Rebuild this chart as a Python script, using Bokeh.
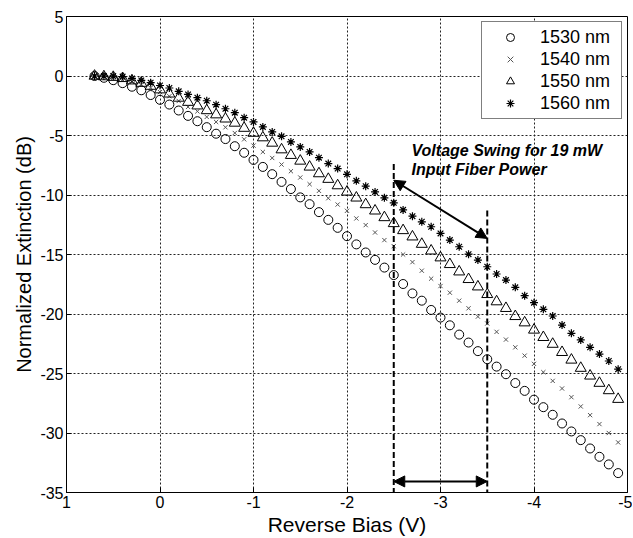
from bokeh.plotting import figure
from bokeh.models import (Range1d, Legend, LegendItem, Arrow, NormalHead, Label, FixedTicker,
                          CustomJSTickFormatter)
from bokeh.embed import file_html
from bokeh.resources import INLINE

bias = [0.7, 0.6, 0.5, 0.4, 0.3, 0.2, 0.1, 0.0, -0.1, -0.2, -0.3, -0.4, -0.5, -0.6, -0.7, -0.8, -0.9,
        -1.0, -1.1, -1.2, -1.3, -1.4, -1.5, -1.6, -1.7, -1.8, -1.9, -2.0, -2.1, -2.2, -2.3, -2.4,
        -2.5, -2.6, -2.7, -2.8, -2.9, -3.0, -3.1, -3.2, -3.3, -3.4, -3.5, -3.6, -3.7, -3.8, -3.9,
        -4.0, -4.1, -4.2, -4.3, -4.4, -4.5, -4.6, -4.7, -4.8, -4.9]

ext_1530 = [0.0, -0.15, -0.35, -0.6, -0.9, -1.2, -1.6, -2.0, -2.4, -2.9, -3.35, -3.8, -4.3, -4.85, -5.3,
            -5.9, -6.45, -7.05, -7.64, -8.25, -8.9, -9.5, -10.2, -10.77, -11.44, -12.09, -12.76,
            -13.46, -14.15, -14.83, -15.45, -16.1, -16.73, -17.48, -18.27, -18.88, -19.66, -20.3,
            -20.95, -21.73, -22.4, -23.12, -23.8, -24.42, -25.06, -25.8, -26.46, -27.2, -27.83,
            -28.47, -29.2, -29.87, -30.6, -31.3, -32.0, -32.64, -33.37]
ext_1540 = [0.0, -0.05, -0.15, -0.3, -0.5, -0.75, -1.0, -1.35, -1.7, -2.1, -2.6, -2.97, -3.44, -3.86,
            -4.31, -4.79, -5.32, -5.85, -6.38, -6.89, -7.44, -8.0, -8.53, -9.09, -9.65, -10.27,
            -10.8, -11.33, -11.97, -12.53, -13.15, -13.79, -14.3, -15.0, -15.64, -16.36, -17.03,
            -17.65, -18.21, -18.88, -19.52, -20.22, -20.8, -21.5, -22.15, -22.8, -23.5, -24.19,
            -24.89, -25.62, -26.26, -26.99, -27.77, -28.5, -29.25, -30.0, -30.79]
ext_1550 = [0.0, -0.05, -0.1, -0.2, -0.4, -0.6, -0.85, -1.15, -1.5, -1.85, -2.2, -2.5, -2.9, -3.25,
            -3.6, -3.95, -4.38, -4.8, -5.18, -5.63, -6.19, -6.66, -7.14, -7.64, -8.2, -8.67, -9.21,
            -9.74, -10.24, -10.8, -11.33, -11.89, -12.39, -12.98, -13.51, -14.13, -14.69, -15.27,
            -15.83, -16.45, -17.09, -17.71, -18.35, -18.96, -19.52, -20.2, -20.73, -21.34, -21.96,
            -22.53, -23.22, -23.86, -24.55, -25.2, -25.81, -26.43, -27.16]
ext_1560 = [0.0, 0.0, 0.0, -0.05, -0.2, -0.37, -0.56, -0.8, -1.01, -1.29, -1.55, -1.82, -2.08, -2.41,
            -2.75, -3.08, -3.5, -3.86, -4.28, -4.7, -5.07, -5.54, -5.96, -6.38, -6.86, -7.36, -7.78,
            -8.26, -8.81, -9.26, -9.74, -10.24, -10.66, -11.25, -11.78, -12.25, -12.67, -13.23,
            -13.79, -14.35, -14.97, -15.47, -16.03, -16.64, -17.15, -17.76, -18.46, -19.05, -19.61,
            -20.17, -20.93, -21.62, -22.18, -22.8, -23.37, -23.95, -24.64]

labels = ["1530 nm", "1540 nm", "1550 nm", "1560 nm"]
x_ticks = [1, 0, -1, -2, -3, -4, -5]
y_ticks = [5, 0, -5, -10, -15, -20, -25, -30, -35]

# annotation data
swing_x = [-2.5, -3.5]
swing_top = [-7.4, -11.3]
diag_arrow_y = [-8.76, -13.65]
bottom_arrow_y = -34.07
note_lines = ["Voltage Swing for 19 mW", "Input Fiber Power"]
note_x = -2.69
note_y = [-6.24, -7.85]

FONT = "Liberation Sans"

p = figure(width=632, height=538, x_range=Range1d(1, -5), y_range=Range1d(-35, 5),
           output_backend="svg", toolbar_location=None,
           min_border_left=66, min_border_right=5, min_border_top=16, min_border_bottom=45)
p.background_fill_color = "white"
p.border_fill_color = "white"
p.outline_line_color = "black"
p.outline_line_width = 1

fmt = CustomJSTickFormatter(code="return tick.toString();")
for ax in (p.xaxis[0], p.yaxis[0]):
    ax.formatter = fmt
    ax.major_label_text_font = FONT
    ax.major_label_text_font_size = "16px"
    ax.major_label_text_color = "black"
    ax.axis_label_text_font = FONT
    ax.axis_label_text_font_style = "normal"
    ax.axis_label_text_color = "black"
    ax.axis_line_color = "black"
    ax.major_tick_in = 5
    ax.major_tick_out = 0
    ax.minor_tick_in = 0
    ax.minor_tick_out = 0
    ax.major_label_standoff = 3
    ax.axis_label_standoff = 2

p.xaxis.axis_label_text_font_size = "21px"
p.yaxis.axis_label_text_font_size = "20px"
p.xaxis.ticker = FixedTicker(ticks=x_ticks)
p.yaxis.ticker = FixedTicker(ticks=y_ticks)
p.xaxis.axis_label = "Reverse Bias (V)"
p.yaxis.axis_label = "Normalized Extinction (dB)"

p.grid.grid_line_color = "#222222"
p.grid.grid_line_dash = "2 2"
p.grid.grid_line_width = 1
p.xgrid.ticker = FixedTicker(ticks=x_ticks)
p.ygrid.ticker = FixedTicker(ticks=y_ticks)

r1 = p.scatter(bias, ext_1530, marker="circle", size=9, fill_color=None, line_color="black", line_width=1)
r2 = p.scatter(bias, ext_1540, marker="x", size=6, line_color="#555555", line_width=1)
r3 = p.scatter(bias, ext_1550, marker="triangle", size=11, fill_color=None, line_color="black", line_width=1)
r4 = p.scatter(bias, ext_1560, marker="asterisk", size=8, line_color="black", line_width=1.2)

legend = Legend(items=[LegendItem(label=labels[0], renderers=[r1]),
                       LegendItem(label=labels[1], renderers=[r2]),
                       LegendItem(label=labels[2], renderers=[r3]),
                       LegendItem(label=labels[3], renderers=[r4])],
                location="top_right")
legend.label_text_font = FONT
legend.label_text_font_size = "18px"
legend.label_text_color = "black"
legend.border_line_color = "black"
legend.border_line_width = 1
legend.background_fill_alpha = 1
legend.padding = 4
legend.spacing = 0
legend.margin = 5
legend.glyph_width = 48
legend.glyph_height = 20
legend.label_height = 22
legend.label_width = 77
legend.label_standoff = 6
p.add_layout(legend)

# vertical dashed markers of the voltage swing
p.segment(x0=swing_x, y0=swing_top, x1=swing_x, y1=[-35, -35],
          line_color="black", line_width=2, line_dash="6 3")

head = dict(size=11, fill_color="black", line_color="black")
p.add_layout(Arrow(start=NormalHead(**head), end=NormalHead(**head),
                   x_start=swing_x[0], y_start=diag_arrow_y[0],
                   x_end=swing_x[1], y_end=diag_arrow_y[1],
                   line_width=2, line_color="black"))
p.add_layout(Arrow(start=NormalHead(**head), end=NormalHead(**head),
                   x_start=swing_x[0], y_start=bottom_arrow_y,
                   x_end=swing_x[1], y_end=bottom_arrow_y,
                   line_width=2, line_color="black"))

for txt, yy in zip(note_lines, note_y):
    p.add_layout(Label(x=note_x, y=yy, text=txt, text_font=FONT, text_font_size="16px",
                       text_font_style="bold italic", text_color="black",
                       text_baseline="alphabetic", text_align="left"))

open("out.html", "w").write(file_html(p, INLINE))
